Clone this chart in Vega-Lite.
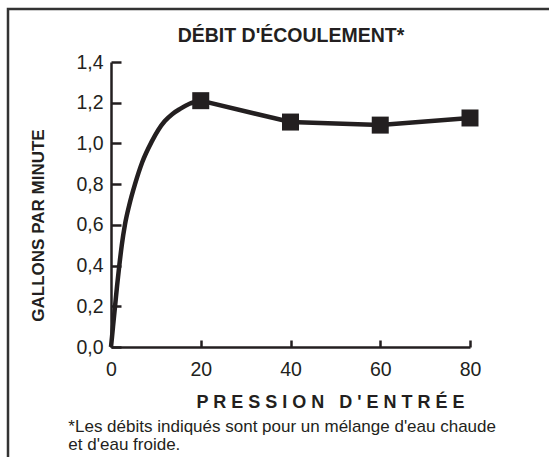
{
  "$schema": "https://vega.github.io/schema/vega-lite/v6.json",
  "width": 560,
  "height": 470,
  "autosize": {"type": "none"},
  "padding": {"left": 8, "top": 9, "right": 0, "bottom": 0},
  "background": "white",
  "title": {
    "text": "DÉBIT D'ÉCOULEMENT*",
    "font": "Liberation Sans",
    "fontSize": 19.5,
    "fontWeight": "bold",
    "color": "#231f20",
    "anchor": "middle",
    "frame": "group",
    "baseline": "alphabetic",
    "offset": -52,
    "dx": 3
  },
  "datasets": {
    "curve": [
      {"p": 0, "q": 0},
      {"p": 0.45, "q": 0.1},
      {"p": 0.9, "q": 0.2},
      {"p": 1.35, "q": 0.3},
      {"p": 1.85, "q": 0.4},
      {"p": 2.4, "q": 0.5},
      {"p": 3.1, "q": 0.6},
      {"p": 4.1, "q": 0.7},
      {"p": 5.35, "q": 0.8},
      {"p": 7.0, "q": 0.91},
      {"p": 9.1, "q": 1.01},
      {"p": 10.5, "q": 1.065},
      {"p": 12.0, "q": 1.11},
      {"p": 13.7, "q": 1.145},
      {"p": 15.4, "q": 1.17},
      {"p": 17.5, "q": 1.195},
      {"p": 20, "q": 1.21}
    ],
    "steps": [
      {"p": 20, "q": 1.21},
      {"p": 40, "q": 1.105},
      {"p": 60, "q": 1.09},
      {"p": 80, "q": 1.125}
    ],
    "note": [
      {"t": "*Les débits indiqués sont pour un mélange d'eau chaude\n\u00a0et d'eau froide."}
    ]
  },
  "layer": [
    {
      "data": {"name": "curve"},
      "mark": {"type": "line", "interpolate": "monotone", "strokeWidth": 4.5, "color": "#231f20"},
      "encoding": {
        "x": {
          "field": "p",
          "type": "quantitative",
          "scale": {"domain": [0, 80], "range": [103, 462], "nice": false, "zero": false},
          "axis": {
            "orient": "bottom",
            "offset": -132,
            "values": [0, 20, 40, 60, 80],
            "grid": false,
            "tickSize": -7,
            "tickWidth": 2.5,
            "tickColor": "#231f20",
            "domainColor": "#231f20",
            "domainWidth": 2.5,
            "labelFont": "Liberation Sans",
            "labelFontSize": 19.5,
            "labelColor": "#231f20",
            "labelPadding": 20,
            "labelFlush": false,
            "labelOverlap": false,
            "title": "P R E S S I O N \u00a0 D ' E N T R É E",
            "titleFont": "Liberation Sans",
            "titleFontSize": 18,
            "titleFontWeight": "bold",
            "titleColor": "#231f20",
            "titleX": 322,
            "titleY": 60,
            "titleBaseline": "alphabetic",
            "titleAlign": "center"
          }
        },
        "y": {
          "field": "q",
          "type": "quantitative",
          "scale": {"domain": [0, 1.4], "range": [338, 53], "nice": false},
          "axis": {
            "orient": "left",
            "offset": -103,
            "values": [0, 0.2, 0.4, 0.6, 0.8, 1.0, 1.2, 1.4],
            "labelExpr": "replace(format(datum.value, '.1f'), '.', ',')",
            "grid": false,
            "tickSize": -10,
            "tickWidth": 2.5,
            "tickColor": "#231f20",
            "domainColor": "#231f20",
            "domainWidth": 2.5,
            "labelFont": "Liberation Sans",
            "labelFontSize": 19.5,
            "labelColor": "#231f20",
            "labelPadding": 18,
            "labelFlush": false,
            "labelOverlap": false,
            "title": "GALLONS PAR MINUTE",
            "titleFont": "Liberation Sans",
            "titleFontSize": 17,
            "titleFontWeight": "bold",
            "titleColor": "#231f20",
            "titleX": -73,
            "titleY": 216,
            "titleAngle": -90,
            "titleBaseline": "middle",
            "titleAlign": "center"
          }
        }
      }
    },
    {
      "data": {"name": "steps"},
      "mark": {"type": "line", "strokeWidth": 4.5, "color": "#231f20"},
      "encoding": {
        "x": {"field": "p", "type": "quantitative"},
        "y": {"field": "q", "type": "quantitative"}
      }
    },
    {
      "data": {"name": "steps"},
      "mark": {"type": "square", "size": 289, "opacity": 1, "color": "#231f20", "filled": true},
      "encoding": {
        "x": {"field": "p", "type": "quantitative"},
        "y": {"field": "q", "type": "quantitative"}
      }
    },
    {
      "data": {"name": "note"},
      "mark": {
        "type": "text",
        "align": "left",
        "baseline": "alphabetic",
        "font": "Liberation Sans",
        "fontSize": 17,
        "lineBreak": "\n",
        "lineHeight": 18.5,
        "color": "#231f20"
      },
      "encoding": {
        "x": {"datum": -9.5, "type": "quantitative"},
        "y": {"datum": -0.4175, "type": "quantitative"},
        "text": {"field": "t", "type": "nominal"}
      }
    }
  ],
  "config": {
    "view": {"stroke": "#333333", "strokeWidth": 2.5}
  }
}
